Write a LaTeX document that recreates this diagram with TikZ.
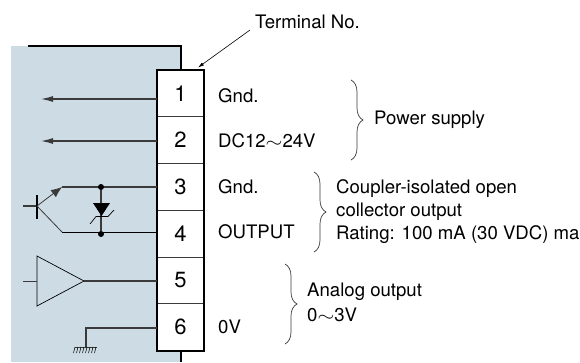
\documentclass[tikz,border=0pt]{standalone}
\usepackage{fontspec}
\usepackage{graphicx}
\setmainfont{TeX Gyre Heros}
\usetikzlibrary{arrows.meta,decorations.pathreplacing}
\definecolor{panelblue}{HTML}{CDDCE4}
\definecolor{wiregray}{HTML}{3A3A3A}
\newcommand{\wave}{\scalebox{1.25}[1]{$\sim$}}
\tikzset{
	cell/.style={draw=wiregray,line width=0.7pt,fill=white,minimum width=47pt,minimum height=46.7pt,inner sep=0pt,font=\fontsize{22}{22}\selectfont},
	wire/.style={wiregray,line width=1.1pt},
	heavy/.style={line width=2pt,black},
	label/.style={anchor=west,inner sep=0pt,font=\fontsize{18.6}{20}\selectfont},
	sidebrace/.style={decorate,decoration={brace,amplitude=12pt},wiregray,line width=0.7pt},
	dot/.style={circle,fill=black,inner sep=0pt,minimum size=6pt},
}
\begin{document}
\begin{tikzpicture}[x=1pt,y=-1pt]
	\useasboundingbox (0,0) rectangle (580,362);
	
		\fill[panelblue](11,46)--(181,46)--(181,362)--(11,362)--cycle;
		\draw[heavy](28,46)--(181,46)--(181,70);
		\draw[heavy](181,351)--(181,362);
	
		\node[cell] (t1) at (180.5,93.4) {1};
		\node[cell] (t2) at (180.5,140.1) {2};
		\node[cell] (t3) at (180.5,186.8) {3};
		\node[cell] (t4) at (180.5,233.5) {4};
		\node[cell] (t5) at (180.5,280.2) {5};
		\node[cell] (t6) at (180.5,326.9) {6};
		\draw[heavy](t1.north west) rectangle (t6.south east);
	
		\coordinate (a1) at (41,99);
		\coordinate (a2) at (41,141);
		\draw[wire,-{Latex[length=12pt,width=6pt]}](t1.west |- a1)--(a1);
		\draw[wire,-{Latex[length=12pt,width=6pt]}](t2.west |- a2)--(a2);
	
		\coordinate (base) at (37,206);
		\coordinate (c) at (62,187);
		\coordinate (e) at (62,232);
		\draw[wire](23,206)--(base);
		\draw[line width=1.7pt,black](37,195)--(37,219);
		\draw[wire,line width=0.8pt,-{Latex[length=11pt,width=9pt]}](base)--(c);
		\draw[wire,line width=0.8pt](base)--(e);
		\draw[wire](c)--(t3.west |- c);
		\draw[wire,black,line width=0.8pt](e)--(t4.west |- e);
	
		\node[dot] (d1) at (101,187) {};
		\node[dot] (d2) at (101,234) {};
		\draw[wire](d1)--(d2);
		\fill[black](93,203)--(110,203)--(101.5,216)--cycle;
		\draw[black,line width=0.7pt](90,224)--(96,216.5)--(108,216.5)--(114,210);
	
		\draw[black,line width=0.7pt,fill=panelblue](37,256)--(84,281)--(37,306)--cycle;
		\draw[wire,line width=0.7pt](23,281)--(37,281);
		\draw[wire](84,281)--(t5.west |- 84,281);
	
		\coordinate (g) at (86,347);
		\draw[wire](t6.west |- 86,328)--(86,328)--(g);
		\draw[wiregray,line width=1pt](75,347)--(97,347);
		\foreach \x in {75,78,81,84,87,90,93,96}
			\draw[black,line width=0.5pt](\x,347)--(\x-1.5,353);
	
		\node[label] (terminal) at (255,22) {Terminal No.};
		\draw[black,line width=0.6pt,-{Latex[length=6pt,width=3.5pt]}](250,30)--(198,67.5);
	
		\node[label] (gnd1) at (218,96) {Gnd.};
		\node[label] (dc) at (218,141) {DC12\wave 24V};
		\node[label] (gnd2) at (218,187) {Gnd.};
		\node[label] (out) at (218,232) {OUTPUT};
		\node[label] (zero) at (218,327) {0V};
	
		\draw[sidebrace](351,80)--(351,160);
		\draw[sidebrace](314,172)--(314,252);
		\draw[sidebrace](285,264)--(285,344);
	
		\node[label] (power) at (374,120) {Power supply};
		\node[label] (coupler) at (336,189) {Coupler-isolated open};
		\node[label] (collector) at (336,212) {collector output};
		\node[label] (rating) at (336,235) {Rating: 100 mA (30 VDC) ma};
		\node[label] (analog) at (307,292) {Analog output};
		\node[label] (range) at (307,315) {0\wave 3V};
	\end{tikzpicture}
\end{document}
